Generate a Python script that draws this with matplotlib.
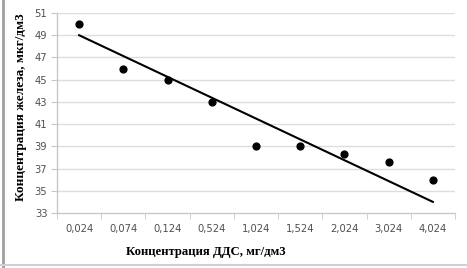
import matplotlib
matplotlib.use("Agg")
import matplotlib.pyplot as plt
from matplotlib.lines import Line2D
import numpy as np

categories = ["0,024", "0,074", "0,124", "0,524", "1,024", "1,524", "2,024", "3,024", "4,024"]
iron = [50.0, 46.0, 45.0, 43.0, 39.0, 39.0, 38.3, 37.6, 36.0]
trend_ends = [49.0, 34.0]
yticks = [33, 35, 37, 39, 41, 43, 45, 47, 49, 51]

fig = plt.figure(figsize=(4.67, 2.68), dpi=100)
ax = fig.add_axes([57/467, 1-213/268, (455-57)/467, (213-13)/268])

x = np.arange(1, len(categories) + 1)
ax.set_xlim(0.5, len(categories) + 0.5)
ax.set_ylim(33, 51)

for yt in yticks[1:]:
    ax.axhline(yt, color="#dddddd", lw=1.0, zorder=1)

ax.plot([x[0], x[-1]], trend_ends, color="black", lw=1.5, zorder=3)
ax.scatter(x, iron, s=24, color="black", zorder=4)

ax.set_yticks(yticks)
ax.set_yticklabels([str(v) for v in yticks])
ax.set_xticks(x)
ax.set_xticklabels(categories)
ax.set_xticks(np.arange(0.5, len(categories) + 1, 1.0), minor=True)
ax.tick_params(axis="x", which="major", length=0, pad=8, labelsize=7.2, labelcolor="#505050")
ax.tick_params(axis="x", which="minor", length=4, color="#c8c8c8", direction="out")
ax.tick_params(axis="y", length=4, color="#c8c8c8", labelsize=7.2, labelcolor="#505050", pad=3)

for s in ["top", "right"]:
    ax.spines[s].set_visible(False)
for s in ["left", "bottom"]:
    ax.spines[s].set_color("#c8c8c8")
    ax.spines[s].set_linewidth(1.0)

ax.set_xlabel("Концентрация ДДС, мг/дм3", family="Liberation Serif", fontweight="bold",
              fontsize=9.2)
ax.xaxis.set_label_coords((206 - 57) / 398, -(252 - 213) / 200, transform=ax.transAxes)
ax.xaxis.label.set_va("center")
ax.set_ylabel("Концентрация железа, мкг/дм3", family="Liberation Serif", fontweight="bold",
              fontsize=9.5)
ax.yaxis.set_label_coords(-(57 - 21) / 398, (213 - 107) / 200, transform=ax.transAxes)
ax.yaxis.label.set_va("center")

fig.add_artist(Line2D([2.5/467, 2.5/467], [0, 1], color="#a0a0a0", lw=2, transform=fig.transFigure))
fig.add_artist(Line2D([0, 1], [3/268, 3/268], color="#d0d0d0", lw=1.5, transform=fig.transFigure))

fig.savefig("out.png", dpi=100)
